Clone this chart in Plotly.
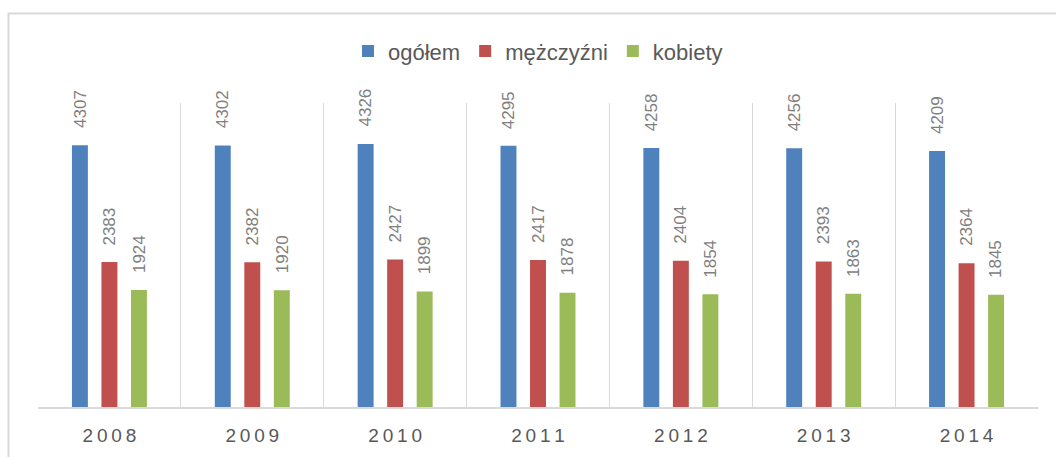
import plotly.graph_objects as go

years = ["2008", "2009", "2010", "2011", "2012", "2013", "2014"]
tick_labels = ["2\u20090\u20090\u20098", "2\u20090\u20090\u20099", "2\u20090\u20091\u20090",
               "2\u20090\u20091\u20091", "2\u20090\u20091\u20092", "2\u20090\u20091\u20093",
               "2\u20090\u20091\u20094"]
ogolem = [4307, 4302, 4326, 4295, 4258, 4256, 4209]
mezczyzni = [2383, 2382, 2427, 2417, 2404, 2393, 2364]
kobiety = [1924, 1920, 1899, 1878, 1854, 1863, 1845]

series = [
    ("ogółem", ogolem, "#4F81BD", -29.6),
    ("mężczyźni", mezczyzni, "#C0504D", 0.0),
    ("kobiety", kobiety, "#9BBB59", 29.6),
]

FONT = "Liberation Sans"
fig = go.Figure()
annotations = []
for name, vals, color, dx in series:
    fig.add_trace(go.Bar(
        name=name, x=years, y=vals,
        marker=dict(color=color, line=dict(width=0)),
    ))
    for i, v in enumerate(vals):
        annotations.append(dict(
            x=i, y=v, xref="x", yref="y", text=str(v), showarrow=False,
            textangle=-90, xanchor="center", yanchor="middle",
            xshift=dx, yshift=36,
            font=dict(family=FONT, size=17, color="#7F7F7F"),
        ))

fig.update_layout(
    width=1056, height=457, autosize=False,
    margin=dict(l=38, r=18, t=103, b=50, autoexpand=False),
    paper_bgcolor="white", plot_bgcolor="white",
    barmode="group", bargap=0.38, bargroupgap=0.46,
    font=dict(family=FONT, color="#595959"),
    legend=dict(
        orientation="h", x=0.5, xanchor="center", y=1.17, yanchor="middle",
        font=dict(family=FONT, size=22, color="#595959"),
        itemwidth=30, bgcolor="rgba(0,0,0,0)",
    ),
    annotations=annotations,
    shapes=[dict(type="rect", xref="paper", yref="paper",
                 x0=-0.0295, x1=1.2, y0=-0.6, y1=1.294,
                 line=dict(color="#D9D9D9", width=2), layer="below")],
)
fig.update_xaxes(
    type="category", tickmode="array", tickvals=years, ticktext=tick_labels,
    tickson="boundaries", showgrid=True, gridcolor="#D9D9D9", gridwidth=1,
    showline=True, linecolor="#D9D9D9", linewidth=1.5, ticks="",
    tickfont=dict(family=FONT, size=19, color="#595959"),
    ticklabelstandoff=10, range=[-0.5, 6.5], automargin=False,
)
fig.update_yaxes(range=[0, 5000], showticklabels=False, showgrid=False,
                 zeroline=False, showline=False, ticks="", automargin=False)

fig.write_html("out.html", config={"displayModeBar": False},
               post_script="document.body.style.margin='0';")
